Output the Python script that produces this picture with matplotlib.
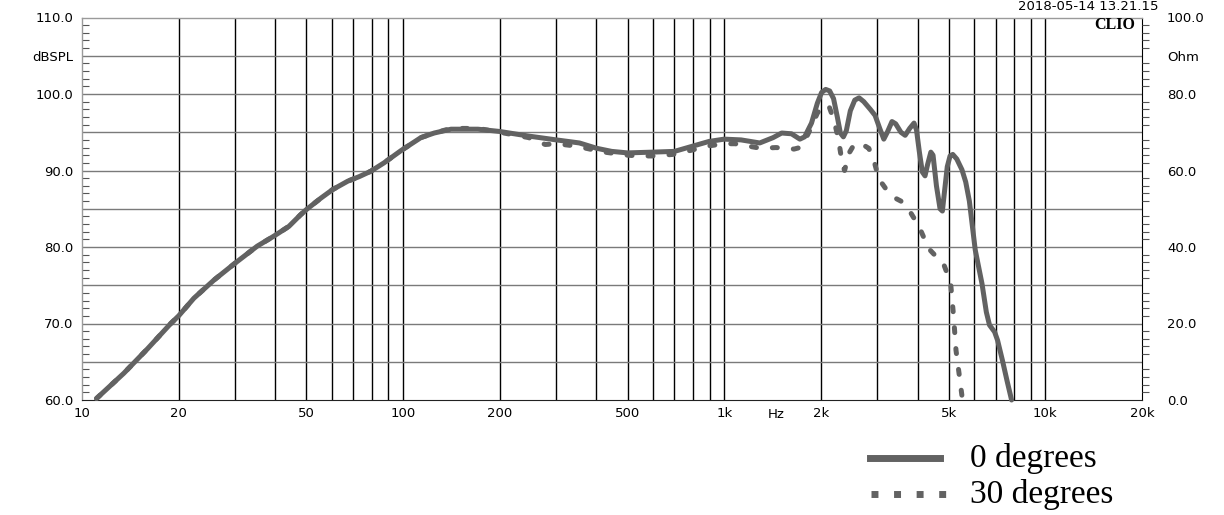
import matplotlib
matplotlib.use("Agg")
import matplotlib.pyplot as plt
from matplotlib.lines import Line2D
from matplotlib.ticker import FixedLocator
import matplotlib.transforms as mtransforms

# ---------------- data ----------------
freq_0deg = [11.1, 13.5, 16.0, 18.9, 20.0, 22.3, 25.8, 30.0, 35.1, 39.5, 44.1, 47.9, 50.0,
             55.5, 60.3, 67.2, 73.0, 79.3, 87.2, 98.5, 113.6, 125, 141, 171, 200, 246, 300,
             354, 401, 446, 500, 597, 700, 800, 897, 1000, 1128, 1290, 1420, 1510, 1620,
             1720, 1780, 1870, 1950, 2010, 2070, 2130, 2190, 2250, 2300, 2350, 2400, 2470,
             2550, 2630, 2720, 2850, 2950, 3050, 3140, 3220, 3330, 3420, 3550, 3660, 3780,
             3900, 3970, 4050, 4140, 4220, 4300, 4400, 4470, 4580, 4700, 4780, 4860, 4950,
             5050, 5150, 5300, 5500, 5650, 5800, 6050, 6350, 6550, 6700, 6950, 7100, 7350,
             7600, 7850]
spl_0deg = [60.2, 63.5, 66.7, 70.0, 71.0, 73.3, 75.7, 77.9, 80.1, 81.4, 82.7, 84.2, 84.9,
            86.4, 87.5, 88.6, 89.2, 89.9, 91.0, 92.6, 94.3, 94.9, 95.4, 95.4, 95.1, 94.5, 94.0,
            93.6, 92.9, 92.5, 92.3, 92.4, 92.5, 93.2, 93.8, 94.1, 94.0, 93.6, 94.3, 94.9, 94.8,
            94.1, 94.4, 96.2, 98.8, 100.2, 100.6, 100.4, 99.4, 97.0, 94.9, 94.4, 95.2, 97.8,
            99.2, 99.5, 99.0, 98.0, 97.2, 95.5, 94.1, 95.0, 96.4, 96.1, 95.0, 94.6, 95.5,
            96.2, 95.3, 92.5, 89.8, 89.3, 90.8, 92.4, 92.0, 88.0, 85.0, 84.7, 87.5, 90.5,
            91.9, 92.1, 91.5, 90.1, 88.5, 86.0, 79.6, 75.2, 71.5, 69.8, 68.9, 67.8, 65.2,
            62.5, 60.0]

freq_30deg = [11.1, 13.5, 16.0, 18.9, 20.0, 22.3, 25.8, 30.0, 35.1, 39.5, 44.1, 47.9, 50.0,
              55.5, 60.3, 67.2, 73.0, 79.3, 87.2, 98.5, 113.6, 125, 141, 171, 200, 246, 277,
              300, 345, 401, 424, 500, 545, 600, 690, 800, 855, 1000, 1080, 1300, 1450, 1650,
              1720, 1800, 1850, 1950, 2050, 2120, 2200, 2270, 2330, 2370, 2450, 2530, 2650,
              2820, 2930, 3030, 3200, 3370, 3550, 3780, 4040, 4330, 4560, 4800, 4950, 5070,
              5180, 5270, 5440, 5520]
spl_30deg = [60.2, 63.5, 66.7, 70.0, 71.0, 73.3, 75.7, 77.9, 80.1, 81.4, 82.7, 84.2, 84.9,
             86.4, 87.5, 88.6, 89.2, 89.9, 91.0, 92.6, 94.3, 94.9, 95.5, 95.5, 95.0, 94.3, 93.4,
             93.5, 93.2, 92.6, 92.4, 92.0, 91.9, 91.9, 92.1, 92.7, 93.1, 93.5, 93.5, 92.9, 93.0,
             92.8, 93.0, 94.3, 95.3, 97.5, 98.6, 98.4, 96.5, 94.0, 91.0, 90.0, 92.3, 93.3, 93.6,
             92.9, 91.2, 88.9, 87.5, 86.5, 86.0, 84.7, 82.7, 79.8, 78.8, 78.0, 76.5, 75.3,
             70.9, 66.5, 62.1, 60.0]

x_label_ticks = [10, 20, 50, 100, 200, 500, 1000, 2000, 5000, 10000, 20000]
x_label_text = ["10", "20", "50", "100", "200", "500", "1k", "2k", "5k", "10k", "20k"]
x_unit_label = "Hz"
x_grid = [20, 30, 40, 50, 60, 70, 80, 90, 100, 200, 300, 400, 500, 600, 700, 800, 900,
          1000, 2000, 3000, 4000, 5000, 6000, 7000, 8000, 9000, 10000]
left_ticks = [60, 65, 70, 75, 80, 85, 90, 95, 100, 105, 110]
left_labels = ["60.0", "", "70.0", "", "80.0", "", "90.0", "", "100.0", "dBSPL", "110.0"]
right_ticks = [0, 10, 20, 30, 40, 50, 60, 70, 80, 90, 100]
right_labels = ["0.0", "", "20.0", "", "40.0", "", "60.0", "", "80.0", "Ohm", "100.0"]
legend_labels = ["0 degrees", "30 degrees"]

# ---------------- figure ----------------
W, H = 1224, 515
fig = plt.figure(figsize=(W / 100, H / 100), dpi=100)
fig.patch.set_facecolor("white")
L, R, T, B = 82, 1142, 17.5, 400
ax = fig.add_axes([L / W, 1 - B / H, (R - L) / W, (B - T) / H])
ax.set_xscale("log")
ax.set_xlim(10, 20000)
ax.set_ylim(60, 110)

curve_col = "#626262"
tick_font = dict(family="DejaVu Sans", size=9.5)

# grid
for f in x_grid:
    ax.axvline(f, color="black", lw=1.0, zorder=1)
for y in left_ticks[1:-1]:
    ax.axhline(y, color="#7a7a7a", lw=1.0, zorder=1)

# curves
ax.plot(freq_0deg, spl_0deg, color=curve_col, lw=3.6, solid_capstyle="round",
        solid_joinstyle="round", zorder=4, clip_on=False)
ax.plot(freq_30deg, spl_30deg, color=curve_col, lw=3.6, dashes=(1.0, 3.2),
        dash_capstyle="round", zorder=3, clip_on=False)

# x axis
ax.xaxis.set_major_locator(FixedLocator(x_label_ticks))
ax.xaxis.set_minor_locator(FixedLocator([]))
ax.set_xticklabels(x_label_text, **tick_font)
ax.tick_params(axis="x", which="both", length=0, pad=5)
trans = mtransforms.blended_transform_factory(ax.transData, ax.transAxes)
ax.text(1450, -0.021, x_unit_label, transform=trans, ha="center", va="top",
        fontdict=tick_font)

# left axis
ax.yaxis.set_major_locator(FixedLocator(left_ticks))
ax.set_yticklabels(left_labels, **tick_font)
ax.yaxis.set_minor_locator(FixedLocator([v for v in range(60, 111) if v % 5 != 0]))
ax.tick_params(axis="y", which="major", length=0, pad=6)
ax.tick_params(axis="y", which="minor", direction="in", length=5, width=0.8, color="#555555")

for s in ["top", "left"]:
    ax.spines[s].set_color("#9a9a9a")
    ax.spines[s].set_linewidth(1.0)
ax.spines["bottom"].set_color("#222222")
ax.spines["right"].set_color("black")

# right axis
ax2 = ax.twinx()
ax2.set_ylim(0, 100)
ax2.yaxis.set_major_locator(FixedLocator(right_ticks))
ax2.set_yticklabels(right_labels, **tick_font)
ax2.yaxis.set_minor_locator(FixedLocator([v for v in range(0, 101, 2) if v % 10 != 0]))
ax2.tick_params(axis="y", which="major", length=0, pad=18)
ax2.tick_params(axis="y", which="minor", direction="out", length=5, width=0.8,
                color="#555555", pad=2)
for s in ax2.spines.values():
    s.set_visible(False)

# annotations
fig.text(1158 / W, 1 - 7 / H, "2018-05-14 13.21.15", ha="right", va="center",
         family="DejaVu Sans", size=9.5)
fig.text(1135 / W, 1 - 25 / H, "CLIO", ha="right", va="center",
         family="Liberation Serif", weight="bold", size=11.5)

# legend
fig.add_artist(Line2D([870 / W, 940 / W], [1 - 458 / H, 1 - 458 / H],
                      transform=fig.transFigure, color=curve_col, lw=5))
fig.add_artist(Line2D([871 / W, 948 / W], [1 - 494 / H, 1 - 494 / H],
                      transform=fig.transFigure, color=curve_col, lw=5,
                      dashes=(1, 2.25), dash_capstyle="butt"))
fig.text(970 / W, 1 - 458 / H, legend_labels[0], ha="left", va="center",
         family="Liberation Serif", size=24)
fig.text(970 / W, 1 - 494 / H, legend_labels[1], ha="left", va="center",
         family="Liberation Serif", size=24)

fig.savefig("out.png", dpi=100)
